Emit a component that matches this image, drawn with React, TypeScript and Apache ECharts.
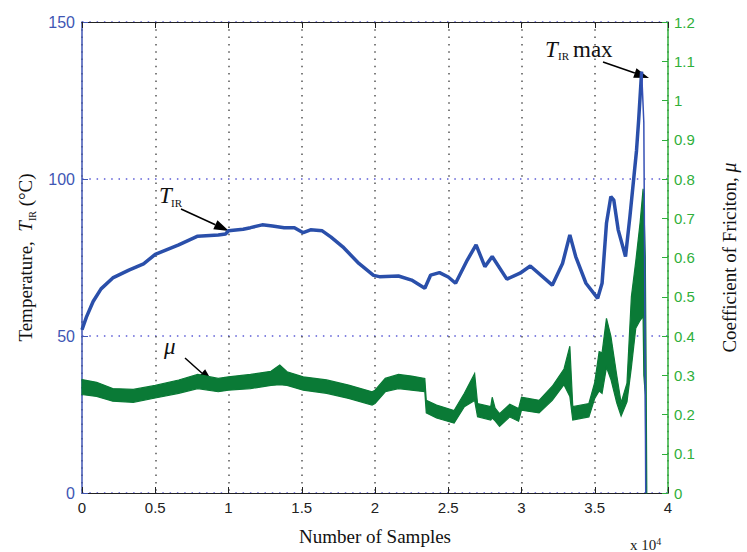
import React, { useEffect, useRef } from 'react';
import * as echarts from 'echarts';

// Temperature T_IR (°C) vs sample number
const sampleX = [
  0, 300, 760, 1300, 2100, 3200, 4200, 5000, 6600, 7900, 9300, 9800, 10000, 11000, 11500,
  12300, 13000, 13800, 14500, 15100, 15600, 16400, 17000, 17800, 18900, 19900, 20300,
  21600, 22500, 23400, 23800, 24400, 25000, 25500, 26300, 26900, 27500, 28000, 29000,
  29900, 30600, 32100, 32800, 33300, 33700, 34400, 35200, 35500, 35800, 36100, 36300,
  36600, 37100, 37400, 37850, 38000, 38200, 38350, 38420, 38480,
];
const tempC = [
  52, 56, 61, 65, 68.5, 71, 73, 76, 79, 81.8, 82.2, 82.5, 83.5, 84, 84.5,
  85.4, 85, 84.5, 84.5, 82.9, 83.8, 83.5, 81.5, 78.4, 73.1, 69.3, 68.9,
  69.1, 67.8, 65.2, 69.4, 70.2, 68.8, 66.8, 74.2, 79, 72.1, 75.3, 68.1,
  70, 72.3, 66.2, 73.1, 82.2, 75.3, 66.8, 62, 66.8, 85.9, 94.4, 93.3,
  83.8, 75.3, 88, 109, 119, 134.2, 118, 60, 0,
];
// samples after the T_IR max are drawn as a thin drop line
const PEAK_INDEX = 56;

// Coefficient of friction μ: noisy band (lower / upper envelope)
const muX = [
  0, 1000, 2100, 3500, 5000, 6600, 7900, 9300, 10000, 11500, 12900, 13500, 14000, 15100,
  16700, 18200, 19800, 20000, 20700, 21600, 22500, 23400, 23500, 24200, 25400, 26100,
  26800, 27000, 27900, 28000, 28200, 28500, 29200, 29800, 30000, 31200, 32100, 32900,
  33300, 33500, 34600, 35000, 35300, 35500, 35800, 36100, 36500, 36800, 37200, 37500,
  37800, 38100, 38300, 38350, 38450, 38500, 38550,
];
const muLow = [
  0.251, 0.246, 0.234, 0.231, 0.242, 0.254, 0.266, 0.258, 0.262, 0.266, 0.274, 0.276, 0.274, 0.262,
  0.254, 0.241, 0.224, 0.228, 0.258, 0.266, 0.262, 0.258, 0.204, 0.191, 0.178, 0.22,
  0.236, 0.194, 0.186, 0.191, 0.184, 0.17, 0.194, 0.183, 0.211, 0.204, 0.236, 0.276,
  0.246, 0.186, 0.194, 0.241, 0.26, 0.254, 0.32, 0.29, 0.23, 0.196, 0.232, 0.32,
  0.42, 0.44, 0.45, 0.3, 0.25, 0, 0,
];
const muHigh = [
  0.289, 0.282, 0.266, 0.264, 0.274, 0.288, 0.302, 0.292, 0.296, 0.302, 0.31, 0.326, 0.309, 0.296,
  0.288, 0.275, 0.258, 0.262, 0.292, 0.302, 0.298, 0.292, 0.236, 0.224, 0.21, 0.254,
  0.304, 0.228, 0.22, 0.244, 0.216, 0.202, 0.226, 0.215, 0.244, 0.236, 0.272, 0.316,
  0.374, 0.22, 0.228, 0.282, 0.36, 0.357, 0.445, 0.4, 0.3, 0.23, 0.28, 0.5,
  0.59, 0.69, 0.775, 0.74, 0.6, 0.35, 0.02,
];

const BLUE_AXIS = '#4056b4';
const BLUE_LINE = '#2a4faa';
const GREEN_AXIS = '#2faf3a';
const GREEN_FILL = '#0a7a36';
const SERIF = '"Liberation Serif", "Times New Roman", serif';
const SANS = '"Liberation Sans", Arial, sans-serif';
const NARROW = '"Liberation Sans Narrow", "Liberation Sans", Arial, sans-serif';

function arrow(x1: number, y1: number, x2: number, y2: number, head = 15, half = 5) {
  const dx = x2 - x1;
  const dy = y2 - y1;
  const len = Math.sqrt(dx * dx + dy * dy);
  const ux = dx / len;
  const uy = dy / len;
  const bx = x2 - ux * head;
  const by = y2 - uy * head;
  const nx = -uy * half;
  const ny = ux * half;
  return [
    { type: 'line', shape: { x1, y1, x2: bx, y2: by }, style: { stroke: '#000', lineWidth: 1.5 } },
    {
      type: 'polygon',
      shape: { points: [[x2, y2], [bx + nx, by + ny], [bx - nx, by - ny]] },
      style: { fill: '#000' },
    },
  ];
}

export default function App() {
  const ref = useRef<HTMLDivElement>(null);
  useEffect(() => {
    document.body.style.margin = '0';
    const chart = echarts.init(ref.current!, undefined, { renderer: 'svg' });
    const tempData = sampleX.map((x, i) => [x, tempC[i]]);
    const tempMain = tempData.slice(0, PEAK_INDEX + 1);
    const tempDrop = tempData.slice(PEAK_INDEX);
    const dotted = [1.5, 5.8];
    const option: any = {
      animation: false,
      backgroundColor: '#fff',
      grid: { left: 82, right: 70, top: 22, bottom: 59 },
      xAxis: [
        {
          type: 'value',
          min: 0,
          max: 40000,
          interval: 5000,
          position: 'bottom',
          name: 'Number of Samples',
          nameLocation: 'middle',
          nameGap: 34,
          nameTextStyle: { fontFamily: SERIF, fontSize: 19, color: '#111' },
          axisLine: { onZero: false, lineStyle: { color: '#222', width: 1.2 } },
          axisTick: { inside: true, length: 6, lineStyle: { color: '#222' } },
          axisLabel: {
            fontFamily: SANS,
            fontSize: 15,
            color: '#222',
            margin: 7,
            formatter: (v: number) => String(+(v / 10000).toFixed(1)),
          },
          splitLine: { show: true, lineStyle: { color: '#555', type: dotted, width: 1.5 } },
        },
        {
          type: 'value',
          min: 0,
          max: 40000,
          interval: 5000,
          position: 'top',
          axisLine: { show: true, onZero: false, lineStyle: { color: '#222', width: 1.2 } },
          axisTick: { inside: true, length: 6, lineStyle: { color: '#222' } },
          axisLabel: { show: false },
          splitLine: { show: false },
        },
      ],
      yAxis: [
        {
          type: 'value',
          min: 0,
          max: 150,
          interval: 50,
          position: 'left',
          name: '{a|Temperature,  }{i|T}{s|IR}{a| (°C)}',
          nameLocation: 'middle',
          nameGap: 43,
          nameRotate: 90,
          nameTextStyle: {
            rich: {
              a: { fontFamily: SERIF, fontSize: 19, color: '#111', lineHeight: 24 },
              i: { fontFamily: SERIF, fontSize: 19, fontStyle: 'italic', color: '#111', lineHeight: 24 },
              s: { fontFamily: SERIF, fontSize: 10, color: '#111', lineHeight: 10, verticalAlign: 'bottom' },
            },
          },
          axisLine: { show: true, onZero: false, lineStyle: { color: BLUE_AXIS, width: 1.5 } },
          axisTick: { show: true, inside: true, length: 6, lineStyle: { color: BLUE_AXIS } },
          axisLabel: { fontFamily: SANS, fontSize: 16, color: BLUE_AXIS, margin: 7 },
          splitLine: { show: true, lineStyle: { color: '#5b5bd6', type: dotted, width: 1.5 } },
        },
        {
          type: 'value',
          min: 0,
          max: 1.2,
          interval: 0.1,
          position: 'right',
          name: '{a|Coefficient of Friciton, }{i|μ}',
          nameLocation: 'middle',
          nameGap: 51,
          nameRotate: 90,
          nameTextStyle: {
            rich: {
              a: { fontFamily: SERIF, fontSize: 19, color: '#111' },
              i: { fontFamily: SERIF, fontSize: 20, fontStyle: 'italic', color: '#111' },
            },
          },
          axisLine: { show: true, onZero: false, lineStyle: { color: GREEN_AXIS, width: 1.5 } },
          axisTick: { show: true, inside: true, length: 6, lineStyle: { color: GREEN_AXIS } },
          axisLabel: {
            fontFamily: NARROW,
            fontSize: 15,
            color: GREEN_AXIS,
            margin: 6,
            formatter: (v: number) => String(+v.toFixed(1)),
          },
          splitLine: { show: false },
        },
      ],
      series: [
        {
          type: 'custom',
          xAxisIndex: 0,
          yAxisIndex: 1,
          z: 2,
          data: [[0, 0]],
          renderItem: (params: any, api: any) => {
            if (params.dataIndex !== 0) return null;
            const upper = muX.map((x, i) => api.coord([x, muHigh[i]]));
            const lower = muX.map((x, i) => api.coord([x, muLow[i]])).reverse();
            return {
              type: 'polygon',
              shape: { points: upper.concat(lower) },
              style: { fill: GREEN_FILL, stroke: GREEN_FILL, lineWidth: 1.2 },
            };
          },
        },
        {
          type: 'line',
          xAxisIndex: 0,
          yAxisIndex: 0,
          z: 3,
          data: tempMain,
          showSymbol: false,
          lineStyle: { color: BLUE_LINE, width: 3.5 },
        },
        {
          type: 'line',
          xAxisIndex: 0,
          yAxisIndex: 0,
          z: 3,
          data: tempDrop,
          showSymbol: false,
          lineStyle: { color: '#3550b5', width: 1.5 },
        },
      ],
      graphic: [
        {
          type: 'text',
          x: 630,
          y: 545,
          style: {
            text: '{a|x 10}{s|4}',
            verticalAlign: 'middle',
            rich: {
              a: { fontFamily: SERIF, fontSize: 15, fill: '#222', lineHeight: 18 },
              s: { fontFamily: SERIF, fontSize: 10, fill: '#222', lineHeight: 18, verticalAlign: 'top' },
            },
          },
        },
        { type: 'text', x: 159, y: 195, style: { text: 'T', fontFamily: SERIF, fontSize: 23, fontStyle: 'italic', fill: '#111', verticalAlign: 'middle' } },
        { type: 'text', x: 171, y: 203, style: { text: 'IR', fontFamily: SERIF, fontSize: 11, fill: '#111', verticalAlign: 'middle' } },
        ...arrow(181, 209, 229, 231),
        { type: 'text', x: 164, y: 346, style: { text: 'μ', fontFamily: SERIF, fontSize: 23, fontStyle: 'italic', fill: '#111', verticalAlign: 'middle' } },
        ...arrow(185, 358, 213, 383),
        { type: 'text', x: 545, y: 49, style: { text: 'T', fontFamily: SERIF, fontSize: 23, fontStyle: 'italic', fill: '#111', verticalAlign: 'middle' } },
        { type: 'text', x: 558, y: 56, style: { text: 'IR', fontFamily: SERIF, fontSize: 11, fill: '#111', verticalAlign: 'middle' } },
        { type: 'text', x: 573, y: 49, style: { text: 'max', fontFamily: SERIF, fontSize: 23, fill: '#111', verticalAlign: 'middle' } },
        ...arrow(603, 62, 649, 78),
      ],
    };
    chart.setOption(option);
    return () => chart.dispose();
  }, []);
  return <div ref={ref} style={{ width: 747, height: 552 }} />;
}
